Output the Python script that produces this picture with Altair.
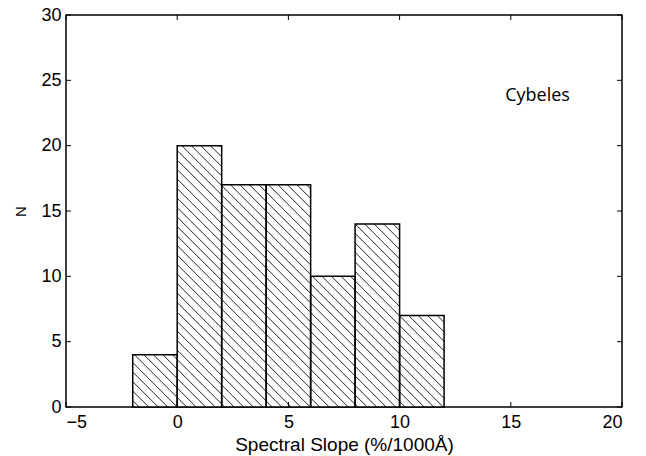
import math
import altair as alt
import pandas as pd

# ---- data ----
bin_start = [-2, 0, 2, 4, 6, 8, 10]
bin_end = [0, 2, 4, 6, 8, 10, 12]
counts = [4, 20, 17, 17, 10, 14, 7]
x_ticks = [-5, 0, 5, 10, 15, 20]
y_ticks = [0, 5, 10, 15, 20, 25, 30]
label_text = ["Cybeles"]
label_x = [14.75]
label_y = [23.8]

W, H = 556, 392
XDOM = [-5, 20]
YDOM = [0, 30]
FONT = "Arial, Liberation Sans, Helvetica, sans-serif"

bars = pd.DataFrame({"x0": bin_start, "x1": bin_end, "n": counts})

# hatch lines (\\\ direction) clipped to each bar, derived from bar data
px_x = W / (XDOM[1] - XDOM[0])
px_y = H / (YDOM[1] - YDOM[0])
k = px_x / px_y
spacing_px = 9.5
dc = spacing_px / px_y
segs = []
for x0, x1, h in zip(bin_start, bin_end, counts):
    cmin = k * x0
    cmax = h + k * x1
    for n in range(math.ceil(cmin / dc), math.floor(cmax / dc) + 1):
        c = n * dc
        xa = max(x0, (c - h) / k)
        xb = min(x1, c / k)
        if xb > xa + 1e-9:
            segs.append({"xa": xa, "ya": c - k * xa, "xb": xb, "yb": c - k * xb})
hatch = pd.DataFrame(segs)

# inward ticks
tick_len = 5
xt_rows = []
for t in x_ticks:
    xt_rows.append({"x": t, "y": YDOM[0], "y2": YDOM[0] + tick_len / px_y})
    xt_rows.append({"x": t, "y": YDOM[1], "y2": YDOM[1] - tick_len / px_y})
yt_rows = []
for t in y_ticks:
    yt_rows.append({"y": t, "x": XDOM[0], "x2": XDOM[0] + tick_len / px_x})
    yt_rows.append({"y": t, "x": XDOM[1], "x2": XDOM[1] - tick_len / px_x})
xt = pd.DataFrame(xt_rows)
yt = pd.DataFrame(yt_rows)

xscale = alt.Scale(domain=XDOM, nice=False, zero=False)
yscale = alt.Scale(domain=YDOM, nice=False, zero=False)

xaxis = alt.Axis(values=x_ticks, tickSize=0, domain=False, grid=False, labelPadding=6,
                 labelFontSize=18, labelFont=FONT, labelColor="black",
                 title="Spectral Slope (%/1000Å)", titleFont=FONT, titleFontSize=19,
                 titleFontWeight="normal", titleColor="black", titlePadding=4,
                 format="d")
yaxis = alt.Axis(values=y_ticks, tickSize=0, domain=False, grid=False, labelPadding=5,
                 labelFontSize=18, labelFont=FONT, labelColor="black",
                 title="N", titleFont=FONT, titleFontSize=15, titleFontWeight="normal",
                 titleColor="black", titlePadding=12)

base_fill = alt.Chart(bars).mark_rect(fill="white", stroke=None).encode(
    x=alt.X("x0:Q", scale=xscale, axis=xaxis),
    x2="x1:Q",
    y=alt.Y("n:Q", scale=yscale, axis=yaxis),
    y2=alt.datum(0),
)

hatch_layer = alt.Chart(hatch).mark_rule(color="#222222", strokeWidth=1).encode(
    x=alt.X("xa:Q", scale=xscale),
    y=alt.Y("ya:Q", scale=yscale),
    x2="xb:Q",
    y2="yb:Q",
)

outline = alt.Chart(bars).mark_rect(fill=None, stroke="black", strokeWidth=1.5).encode(
    x=alt.X("x0:Q", scale=xscale),
    x2="x1:Q",
    y=alt.Y("n:Q", scale=yscale),
    y2=alt.datum(0),
)

xticks_layer = alt.Chart(xt).mark_rule(color="black", strokeWidth=1).encode(
    x=alt.X("x:Q", scale=xscale), y=alt.Y("y:Q", scale=yscale), y2="y2:Q"
)
yticks_layer = alt.Chart(yt).mark_rule(color="black", strokeWidth=1).encode(
    y=alt.Y("y:Q", scale=yscale), x=alt.X("x:Q", scale=xscale), x2="x2:Q"
)

txt = alt.Chart(pd.DataFrame({"t": label_text, "x": label_x, "y": label_y})).mark_text(
    font="Open Sans", fontSize=18, align="left", baseline="middle", color="black"
).encode(x=alt.X("x:Q", scale=xscale), y=alt.Y("y:Q", scale=yscale), text="t:N")

chart = alt.layer(base_fill, hatch_layer, outline, xticks_layer, yticks_layer, txt).properties(
    width=W, height=H,
    autosize=alt.AutoSizeParams(type="none"),
    padding={"left": 66, "top": 15, "right": 24, "bottom": 49},
    background="white",
).configure_view(stroke="black", strokeWidth=1.5)

chart.save("out.html", embed_options={"renderer": "svg", "actions": False})
